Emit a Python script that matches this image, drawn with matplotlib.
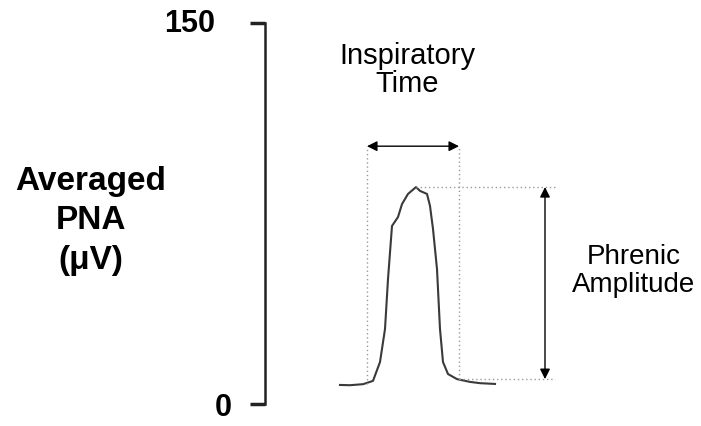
import matplotlib.pyplot as plt
import matplotlib.transforms as mtransforms
import numpy as np

plt.rcParams['font.family'] = ['Liberation Sans', 'DejaVu Sans']

# averaged phrenic nerve activity trace (time in ms, PNA in uV)
time_ms = [0, 40, 92, 132, 160, 180, 192, 208, 232, 248, 272, 304, 320,
           348, 360, 372, 388, 400, 412, 432, 468, 520, 560, 620]
pna_uv = [7.5, 7.4, 7.8, 9.1, 16.5, 29.5, 49.2, 70.1, 73.6, 78.7, 82.7, 85.4,
          83.9, 82.7, 78.0, 68.9, 53.1, 29.5, 16.5, 11.8, 9.8, 8.7, 8.2, 7.9]

y_ticks = [0, 150]
insp_on, insp_off = 108, 476      # inspiratory onset / offset (ms)
amp_x, amp_end = 820, 860         # where amplitude arrow sits
base_level = 9.8

peak = max(pna_uv)
peak_t = time_ms[int(np.argmax(pna_uv))]

fig = plt.figure(figsize=(7.01, 4.27), dpi=100)
ax = fig.add_axes([265/701, 22/427, 1 - 265/701, 381/427])
ax.set_xlim(-300, 1444)
ax.set_ylim(0, 150)

ax.plot(time_ms, pna_uv, color='#3a3a3a', lw=1.5)

# dotted guide lines
dot = dict(color='#999999', lw=1, ls=(0, (1, 2)))
ax.plot([insp_on, insp_on], [pna_uv[2], 101.5], **dot)
ax.plot([insp_off, insp_off], [base_level, 101.5], **dot)
ax.plot([peak_t, amp_end], [peak, peak], **dot)
ax.plot([insp_off, amp_end], [base_level, base_level], **dot)

arrow = dict(arrowstyle='<|-|>', color='black', lw=1, mutation_scale=15,
             shrinkA=0, shrinkB=0)
ax.annotate('', xy=(insp_on, 101.5), xytext=(insp_off, 101.5), arrowprops=arrow)
ax.annotate('', xy=(amp_x, peak), xytext=(amp_x, base_level), arrowprops=arrow)

fig.text(407/701, 1 - 70/427, 'Inspiratory\nTime', ha='center', va='center',
         fontsize=21, linespacing=1.0)
fig.text(634/701, 1 - 271/427, 'Phrenic\nAmplitude', ha='center', va='center',
         fontsize=20, linespacing=1.05)

# axis styling
for s in ['top', 'right', 'bottom']:
    ax.spines[s].set_visible(False)
ax.spines['left'].set_linewidth(1.8)
ax.spines['left'].set_color('#222222')
ax.set_xticks([])
ax.set_yticks(y_ticks)
ax.set_yticklabels([])
ax.tick_params(axis='y', length=11, width=2.5, color='#222222')

# tick labels placed by hand, the 0 sits closer to the axis than the 150
trans = mtransforms.blended_transform_factory(fig.transFigure, ax.transData)
label_right = {150: 215, 0: 232}
label_dy = {150: 0.0, 0: -1.2}
for v in y_ticks:
    ax.text(label_right[v] / 701, v + label_dy[v], str(v), transform=trans,
            ha='right', va='center', fontsize=22, fontweight='bold')

fig.text(91/701, 1 - 221/427, 'Averaged\nPNA\n(\u03bcV)', ha='center', va='center',
         fontsize=24, fontweight='bold', linespacing=1.35)

fig.savefig('out.png', dpi=100)
